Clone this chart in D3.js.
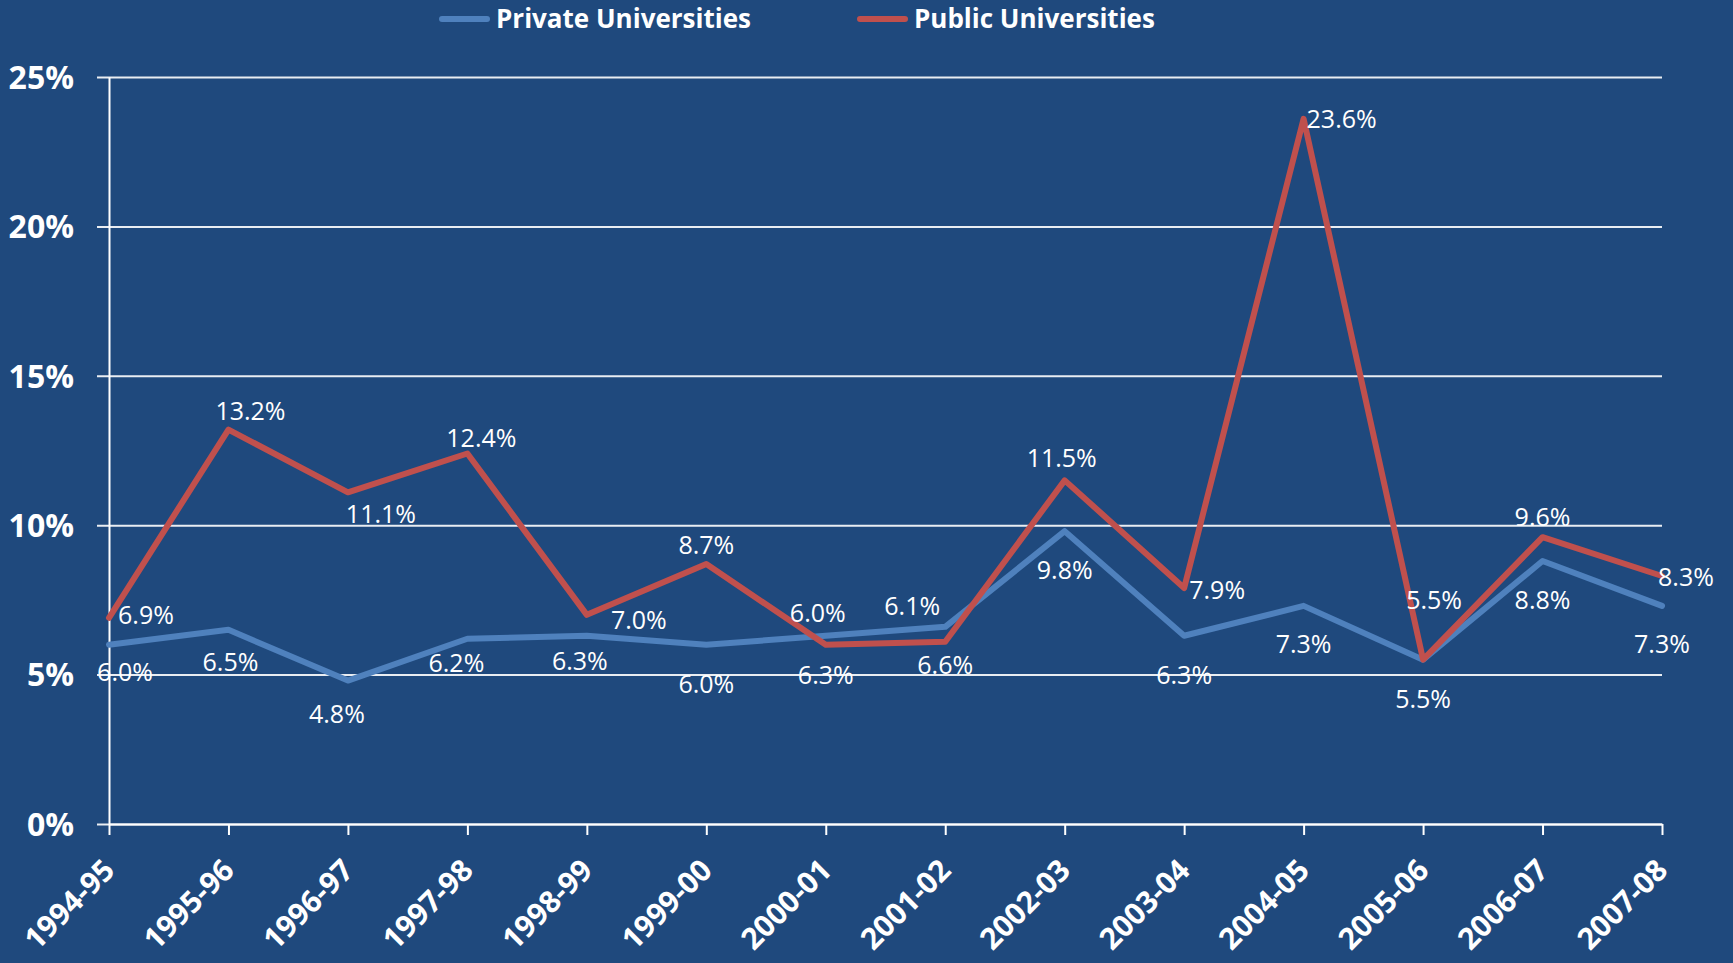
<!DOCTYPE html>
<html>
<head>
<meta charset="utf-8">
<script src="https://cdn.jsdelivr.net/npm/d3@7"></script>
<style>
  html, body { margin: 0; padding: 0; background: #1F497D; }
  svg { display: block; }
  text { fill: #ffffff; font-family: "Open Sans", sans-serif; }
</style>
</head>
<body>
<div id="chart"></div>
<script>
var years = ["1994-95", "1995-96", "1996-97", "1997-98", "1998-99", "1999-00", "2000-01",
  "2001-02", "2002-03", "2003-04", "2004-05", "2005-06", "2006-07", "2007-08"];
var privateRates = [6.0, 6.5, 4.8, 6.2, 6.3, 6.0, 6.3, 6.6, 9.8, 6.3, 7.3, 5.5, 8.8, 7.3];
var publicRates = [6.9, 13.2, 11.1, 12.4, 7.0, 8.7, 6.0, 6.1, 11.5, 7.9, 23.6, 5.5, 9.6, 8.3];
var yTicks = [0, 5, 10, 15, 20, 25];

// label nudges (px) copied from where the original chart put each label
var privateNudge = [[16, 27], [2, 32], [-11, 33], [-11, 24], [-7, 25], [0, 39], [0, 39],
  [0, 38], [0, 39], [0, 39], [0, 38], [0, 39], [0, 39], [0, 38]];
var publicNudge = [[37, -3], [22, -19], [33, 22], [14, -15], [52, 5], [0, -19], [-8, -32],
  [-33, -36], [-3, -22], [33, 2], [38, 0], [11, -60], [0, -20], [24, 1]];

var svgW = 1733;
var svgH = 963;

var margin = { top: 77, right: 71, bottom: 139, left: 109 };
var width = svgW - margin.left - margin.right;
var height = svgH - margin.top - margin.bottom;

var svg = d3.select("#chart")
  .append("svg")
  .attr("width", svgW)
  .attr("height", svgH);

svg.append("rect")
  .attr("width", svgW)
  .attr("height", svgH)
  .attr("fill", "#1F497D");

var chartGroup = svg.append("g")
  .attr("transform", `translate(${margin.left}, ${margin.top})`);

var x = d3.scalePoint()
  .domain(years)
  .range([0, width]);

var y = d3.scaleLinear()
  .domain([0, 25])
  .range([height, 0]);

// y axis + gridlines
var leftAxis = d3.axisLeft(y)
  .tickValues(yTicks)
  .tickFormat(d => d + "%")
  .tickSizeOuter(0);

chartGroup.append("g")
  .call(leftAxis)
  .call(g => g.select(".domain").attr("stroke", "#ffffff").attr("stroke-width", 2))
  .call(g => g.selectAll(".tick line")
    .attr("x1", -12)
    .attr("x2", width)
    .attr("stroke", "#ffffff")
    .attr("stroke-opacity", 0.9)
    .attr("stroke-width", 2))
  .call(g => g.selectAll(".tick text")
    .attr("x", -35)
    .attr("dy", "0.35em")
    .attr("fill", "#ffffff")
    .style("font-family", "'Open Sans', sans-serif")
    .style("font-weight", "bold")
    .style("font-size", "32px"));

// x axis
var bottomAxis = d3.axisBottom(x)
  .tickSize(11)
  .tickSizeOuter(0);

chartGroup.append("g")
  .attr("transform", `translate(0, ${height})`)
  .call(bottomAxis)
  .call(g => g.select(".domain").attr("stroke", "#ffffff").attr("stroke-width", 2))
  .call(g => g.selectAll(".tick line").attr("stroke", "#ffffff").attr("stroke-width", 2))
  .call(g => g.selectAll(".tick text")
    .attr("x", 0)
    .attr("y", 0)
    .attr("dy", 0)
    .attr("text-anchor", "end")
    .attr("transform", "translate(7, 48) rotate(-45)")
    .attr("fill", "#ffffff")
    .style("font-family", "'Open Sans', sans-serif")
    .style("font-weight", "bold")
    .style("font-size", "30px"));

var series = [
  { name: "Private Universities", values: privateRates, nudge: privateNudge, color: "#4F81BD" },
  { name: "Public Universities", values: publicRates, nudge: publicNudge, color: "#C0504D" }
];

var line = d3.line()
  .x((d, i) => x(years[i]))
  .y(d => y(d));

series.forEach(s => {
  chartGroup.append("path")
    .datum(s.values)
    .attr("fill", "none")
    .attr("stroke", s.color)
    .attr("stroke-width", 6)
    .attr("stroke-linejoin", "round")
    .attr("stroke-linecap", "round")
    .attr("d", line);
});

series.forEach(s => {
  chartGroup.append("g")
    .selectAll("text")
    .data(s.values)
    .enter()
    .append("text")
    .attr("x", (d, i) => x(years[i]) + s.nudge[i][0])
    .attr("y", (d, i) => y(d) + s.nudge[i][1])
    .attr("text-anchor", "middle")
    .attr("dy", "0.36em")
    .style("font-size", "25px")
    .text(d => d.toFixed(1) + "%");
});

// legend
var legendPos = [439, 857];
var legend = svg.append("g");
series.forEach((s, i) => {
  var lg = legend.append("g").attr("transform", `translate(${legendPos[i]}, 19)`);
  lg.append("line")
    .attr("x1", 3)
    .attr("x2", 48)
    .attr("stroke", s.color)
    .attr("stroke-width", 6)
    .attr("stroke-linecap", "round");
  lg.append("text")
    .attr("x", 57)
    .attr("dy", "0.36em")
    .style("font-weight", "bold")
    .style("font-size", "26px")
    .text(s.name);
});
</script>
</body>
</html>
